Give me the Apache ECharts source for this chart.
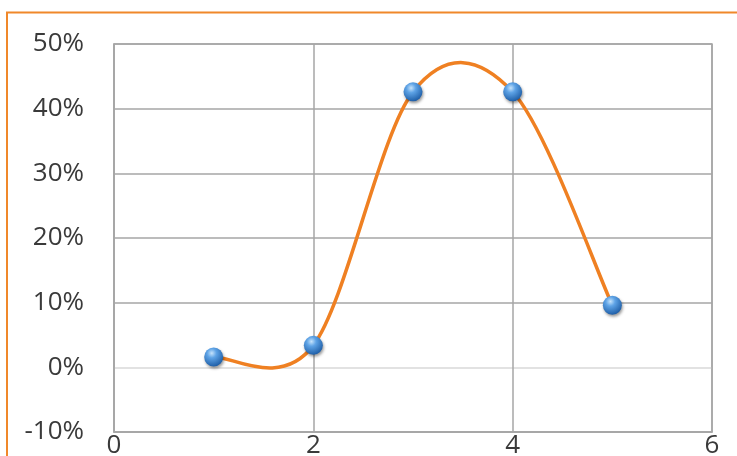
<!DOCTYPE html>
<html><head><meta charset="utf-8">
<script src="https://cdn.jsdelivr.net/npm/echarts@6/dist/echarts.min.js"></script>
<style>html,body{margin:0;padding:0;background:#fff;overflow:hidden}#c{width:737px;height:456px}</style>
</head><body><div id="c"></div>
<script>
var xValues = [1, 2, 3, 4, 5];
var yValues = [1.6, 3.4, 42.6, 42.6, 9.6];
var yTicks = [-10, 0, 10, 20, 30, 40, 50];
var xTicks = [0, 2, 4, 6];

var points = xValues.map(function (x, i) { return [x, yValues[i]]; });
var chart = echarts.init(document.getElementById('c'));
var labelFont = {fontFamily: 'Open Sans', fontSize: 26, color: '#3a3a3a'};
var splitColors = yTicks.map(function (t) { return t === 0 ? '#d9d9d9' : '#a6a6a6'; });

// Catmull-Rom style smoothed segment (Excel-like), drawn through the library's coordinate system
function renderSegment(params, api) {
  var i = params.dataIndex;
  var n = points.length;
  if (i >= n - 1) return null;
  var c = function (j) { j = Math.max(0, Math.min(n - 1, j)); return api.coord(points[j]); };
  var p0 = c(i - 1), p1 = c(i), p2 = c(i + 1), p3 = c(i + 2);
  var cp1 = [p1[0] + (p2[0] - p0[0]) / 6, p1[1] + (p2[1] - p0[1]) / 6];
  var cp2 = [p2[0] - (p3[0] - p1[0]) / 6, p2[1] - (p3[1] - p1[1]) / 6];
  return {
    type: 'bezierCurve',
    shape: {x1: p1[0], y1: p1[1], x2: p2[0], y2: p2[1], cpx1: cp1[0], cpy1: cp1[1], cpx2: cp2[0], cpy2: cp2[1]},
    style: {stroke: '#EF8022', lineWidth: 3.5, fill: null}
  };
}

chart.setOption({
  animation: false,
  graphic: [{
    type: 'rect', silent: true, z: -1,
    shape: {x: 7, y: 12.5, width: 900, height: 600},
    style: {fill: 'none', stroke: '#F0882A', lineWidth: 2}
  }],
  grid: {left: 114, top: 44, right: 25, bottom: 24, containLabel: false, outerBoundsMode: 'none',
    show: true, borderColor: '#a6a6a6', borderWidth: 1.5, backgroundColor: 'transparent'},
  xAxis: {
    type: 'value', min: xTicks[0], max: xTicks[xTicks.length - 1], interval: 2,
    axisLine: {onZero: false, lineStyle: {color: '#a6a6a6', width: 1.5}},
    axisTick: {show: false},
    splitLine: {show: true, lineStyle: {color: '#a6a6a6', width: 1.5}},
    axisLabel: Object.assign({margin: 1}, labelFont)
  },
  yAxis: {
    type: 'value', min: yTicks[0], max: yTicks[yTicks.length - 1], interval: 10,
    axisLine: {show: true, lineStyle: {color: '#a6a6a6', width: 1.5}},
    axisTick: {show: false},
    splitLine: {show: true, lineStyle: {color: splitColors, width: 1.5}},
    axisLabel: Object.assign({margin: 30, formatter: '{value}%'}, labelFont)
  },
  series: [{
    type: 'custom',
    data: points,
    renderItem: renderSegment,
    z: 2
  }, {
    type: 'scatter',
    data: points,
    symbol: 'circle', symbolSize: 19,
    itemStyle: {
      color: new echarts.graphic.RadialGradient(0.4, 0.3, 0.7, [
        {offset: 0, color: '#c6e3fb'},
        {offset: 0.35, color: '#5ea3e6'},
        {offset: 1, color: '#1f5fa8'}
      ]),
      borderWidth: 0, opacity: 1,
      shadowColor: 'rgba(0,0,0,0.4)', shadowBlur: 3, shadowOffsetX: 1, shadowOffsetY: 2
    },
    z: 3
  }]
});
</script></body></html>
